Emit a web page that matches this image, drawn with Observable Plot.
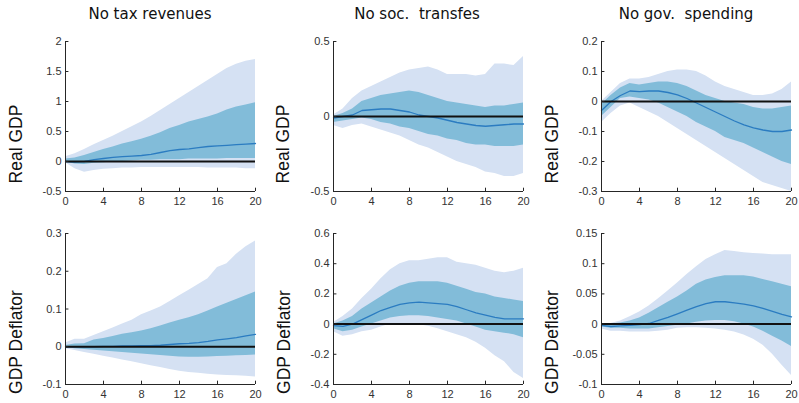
<!DOCTYPE html>
<html>
<head>
<meta charset="utf-8">
<script src="https://cdn.jsdelivr.net/npm/d3@7"></script>
<script src="https://cdn.jsdelivr.net/npm/@observablehq/plot@0.6"></script>
<style>
  body { margin: 0; background: #fff; }
  #root { position: relative; width: 799px; height: 403px; overflow: hidden; font-family: "Liberation Sans", Arial, sans-serif; }
  .panel { position: absolute; }
  .title { position: absolute; font-family: "DejaVu Sans", sans-serif; font-size: 15px; color: #111; white-space: pre; transform: translate(-50%, -50%); line-height: 1; }
  .ylab { position: absolute; font-family: "Liberation Sans", Arial, sans-serif; font-size: 17.5px; color: #111; white-space: nowrap; transform: translate(-50%, -50%) rotate(-90deg); line-height: 1; }
</style>
</head>
<body>
<div id="root"></div>
<script>
// ---------- data ----------
const quarters = [0,1,2,3,4,5,6,7,8,9,10,11,12,13,14,15,16,17,18,19,20];
const xTicks = [0,4,8,12,16,20];

const titles = ["No tax revenues", "No soc.  transfes", "No gov.  spending"];
const rowLabels = ["Real GDP", "GDP Deflator"];

// Real GDP, No tax revenues
const taxGdpOuterLo = [-0.02,-0.12,-0.18,-0.15,-0.13,-0.12,-0.11,-0.11,-0.1,-0.1,-0.1,-0.1,-0.1,-0.1,-0.1,-0.11,-0.11,-0.11,-0.11,-0.12,-0.12];
const taxGdpOuterHi = [0.08,0.13,0.2,0.28,0.35,0.42,0.5,0.58,0.66,0.75,0.85,0.95,1.05,1.15,1.25,1.35,1.45,1.55,1.62,1.67,1.7];
const taxGdpInnerLo = [-0.01,-0.04,-0.05,-0.03,-0.02,-0.01,0.0,0.01,0.02,0.02,0.03,0.03,0.03,0.04,0.04,0.04,0.04,0.05,0.05,0.05,0.05];
const taxGdpInnerHi = [0.04,0.06,0.1,0.15,0.2,0.24,0.29,0.33,0.37,0.42,0.48,0.55,0.6,0.66,0.7,0.74,0.79,0.86,0.91,0.94,0.98];
const taxGdpMedian  = [0,-0.01,0,0.03,0.05,0.07,0.08,0.09,0.1,0.12,0.15,0.18,0.2,0.21,0.23,0.25,0.26,0.27,0.28,0.29,0.3];

// Real GDP, No soc. transfers
const socGdpOuterLo = [-0.06,-0.08,-0.06,-0.05,-0.07,-0.09,-0.11,-0.13,-0.16,-0.19,-0.21,-0.24,-0.27,-0.3,-0.32,-0.34,-0.37,-0.38,-0.4,-0.4,-0.38];
const socGdpOuterHi = [0.01,0.05,0.12,0.17,0.2,0.23,0.26,0.29,0.31,0.32,0.33,0.31,0.28,0.28,0.28,0.27,0.28,0.35,0.35,0.34,0.4];
const socGdpInnerLo = [-0.04,-0.03,-0.02,-0.01,-0.02,-0.04,-0.05,-0.07,-0.08,-0.1,-0.12,-0.13,-0.15,-0.16,-0.18,-0.19,-0.19,-0.2,-0.2,-0.2,-0.19];
const socGdpInnerHi = [0,0.02,0.05,0.1,0.12,0.14,0.15,0.16,0.17,0.16,0.14,0.12,0.1,0.09,0.08,0.07,0.06,0.07,0.07,0.08,0.09];
const socGdpMedian  = [-0.01,0,0.01,0.04,0.045,0.05,0.05,0.04,0.03,0.01,0,-0.01,-0.025,-0.04,-0.05,-0.06,-0.065,-0.06,-0.055,-0.05,-0.05];

// Real GDP, No gov. spending
const govGdpOuterLo = [-0.07,-0.04,-0.015,-0.005,-0.02,-0.035,-0.05,-0.07,-0.09,-0.11,-0.13,-0.15,-0.17,-0.19,-0.21,-0.23,-0.25,-0.27,-0.28,-0.29,-0.3];
const govGdpOuterHi = [0.0,0.03,0.06,0.075,0.075,0.08,0.09,0.1,0.105,0.105,0.1,0.085,0.065,0.05,0.04,0.03,0.02,0.02,0.025,0.04,0.065];
const govGdpInnerLo = [-0.05,-0.02,0.01,0.015,0.01,0.005,-0.005,-0.02,-0.035,-0.05,-0.07,-0.085,-0.1,-0.12,-0.13,-0.14,-0.155,-0.17,-0.185,-0.2,-0.21];
const govGdpInnerHi = [-0.01,0.02,0.045,0.06,0.055,0.06,0.065,0.065,0.06,0.05,0.035,0.02,0.01,0.0,-0.005,-0.01,-0.02,-0.025,-0.025,-0.02,-0.015];
const govGdpMedian  = [-0.03,0.0,0.02,0.035,0.033,0.035,0.035,0.03,0.022,0.01,-0.005,-0.02,-0.035,-0.05,-0.065,-0.078,-0.088,-0.095,-0.1,-0.1,-0.095];

// GDP Deflator, No tax revenues
const taxDefOuterLo = [-0.005,-0.01,-0.015,-0.02,-0.025,-0.03,-0.035,-0.04,-0.045,-0.05,-0.055,-0.06,-0.065,-0.068,-0.07,-0.073,-0.075,-0.076,-0.077,-0.078,-0.08];
const taxDefOuterHi = [0.01,0.02,0.02,0.03,0.04,0.05,0.06,0.07,0.085,0.095,0.105,0.12,0.135,0.15,0.165,0.18,0.21,0.22,0.245,0.265,0.28];
const taxDefInnerLo = [-0.002,-0.005,-0.007,-0.009,-0.011,-0.013,-0.015,-0.017,-0.019,-0.021,-0.023,-0.025,-0.027,-0.028,-0.028,-0.027,-0.026,-0.025,-0.024,-0.023,-0.022];
const taxDefInnerHi = [0.003,0.007,0.008,0.018,0.022,0.027,0.033,0.037,0.042,0.048,0.055,0.063,0.07,0.077,0.085,0.095,0.105,0.115,0.125,0.135,0.145];
const taxDefMedian  = [0,0,0,0,0.001,0.001,0.002,0.002,0.003,0.003,0.004,0.006,0.008,0.009,0.011,0.014,0.018,0.021,0.024,0.029,0.033];

// GDP Deflator, No soc. transfers
const socDefOuterLo = [-0.05,-0.08,-0.07,-0.05,-0.04,-0.02,0.0,0.0,0.0,-0.005,-0.015,-0.03,-0.05,-0.07,-0.09,-0.12,-0.16,-0.21,-0.25,-0.32,-0.36];
const socDefOuterHi = [0.01,0.05,0.1,0.17,0.23,0.3,0.36,0.4,0.42,0.42,0.43,0.44,0.44,0.41,0.4,0.39,0.37,0.35,0.34,0.35,0.37];
const socDefInnerLo = [-0.03,-0.05,-0.04,-0.02,0.0,0.02,0.04,0.05,0.055,0.055,0.05,0.04,0.03,0.02,0.0,-0.02,-0.04,-0.05,-0.06,-0.07,-0.09];
const socDefInnerHi = [0.0,0.02,0.05,0.1,0.14,0.18,0.22,0.25,0.27,0.28,0.28,0.28,0.27,0.25,0.23,0.21,0.2,0.18,0.17,0.16,0.15];
const socDefMedian  = [-0.01,-0.015,0.0,0.03,0.06,0.09,0.11,0.13,0.14,0.145,0.14,0.135,0.13,0.115,0.095,0.075,0.06,0.045,0.035,0.035,0.035];

// GDP Deflator, No gov. spending
const govDefOuterLo = [-0.008,-0.012,-0.012,-0.013,-0.013,-0.013,-0.012,-0.01,-0.007,-0.006,-0.006,-0.007,-0.008,-0.01,-0.013,-0.018,-0.025,-0.035,-0.05,-0.068,-0.085];
const govDefOuterHi = [0.0,0.001,0.005,0.012,0.02,0.03,0.042,0.055,0.068,0.082,0.095,0.107,0.115,0.122,0.12,0.118,0.117,0.116,0.115,0.115,0.115];
const govDefInnerLo = [-0.005,-0.007,-0.007,-0.008,-0.008,-0.008,-0.006,-0.004,-0.002,0.0,0.003,0.005,0.006,0.006,0.004,0.0,-0.005,-0.012,-0.02,-0.028,-0.037];
const govDefInnerHi = [0.0,0.0,0.002,0.005,0.01,0.018,0.027,0.036,0.045,0.055,0.066,0.073,0.077,0.08,0.08,0.08,0.078,0.074,0.07,0.066,0.062];
const govDefMedian  = [-0.002,-0.004,-0.003,-0.002,-0.001,0.001,0.006,0.011,0.017,0.023,0.029,0.034,0.037,0.037,0.035,0.033,0.03,0.026,0.021,0.016,0.012];

// y-axis ticks per panel
const taxGdpTicks = [-0.5,0,0.5,1,1.5,2];
const socGdpTicks = [-0.5,0,0.5];
const govGdpTicks = [-0.3,-0.2,-0.1,0,0.1,0.2];
const taxDefTicks = [-0.1,0,0.1,0.2,0.3];
const socDefTicks = [-0.4,-0.2,0,0.2,0.4,0.6];
const govDefTicks = [-0.1,-0.05,0,0.05,0.1,0.15];

// ---------- layout / style ----------
const lightBand = "#d5e1f3";
const darkBand = "#82bcd9";
const medianColor = "#2b7cc1";
const axisColor = "#262626";

const panels = [
  {row:0, col:0, lo:taxGdpOuterLo, hi:taxGdpOuterHi, ilo:taxGdpInnerLo, ihi:taxGdpInnerHi, med:taxGdpMedian, ticks:taxGdpTicks},
  {row:0, col:1, lo:socGdpOuterLo, hi:socGdpOuterHi, ilo:socGdpInnerLo, ihi:socGdpInnerHi, med:socGdpMedian, ticks:socGdpTicks},
  {row:0, col:2, lo:govGdpOuterLo, hi:govGdpOuterHi, ilo:govGdpInnerLo, ihi:govGdpInnerHi, med:govGdpMedian, ticks:govGdpTicks},
  {row:1, col:0, lo:taxDefOuterLo, hi:taxDefOuterHi, ilo:taxDefInnerLo, ihi:taxDefInnerHi, med:taxDefMedian, ticks:taxDefTicks},
  {row:1, col:1, lo:socDefOuterLo, hi:socDefOuterHi, ilo:socDefInnerLo, ihi:socDefInnerHi, med:socDefMedian, ticks:socDefTicks},
  {row:1, col:2, lo:govDefOuterLo, hi:govDefOuterHi, ilo:govDefInnerLo, ihi:govDefInnerHi, med:govDefMedian, ticks:govDefTicks}
];

const colLeft = [0, 268, 536];
const rowTop = [0, 192];
const titleX = [150, 417, 686];
const ylabX = [[17, 284, 553], [17, 285, 553]];
const ylabY = [144, 342];

const root = document.getElementById("root");

for (const p of panels) {
  const rows = quarters.map((q, i) => ({q, lo: p.lo[i], hi: p.hi[i], ilo: p.ilo[i], ihi: p.ihi[i], med: p.med[i]}));
  const yMin = p.ticks[0], yMax = p.ticks[p.ticks.length - 1];
  const span = yMax - yMin;
  const chart = Plot.plot({
    width: 263,
    height: p.row === 0 ? 210 : 211,
    marginLeft: 65,
    marginRight: 8,
    marginTop: 41,
    marginBottom: p.row === 0 ? 19 : 19,
    style: {fontFamily: "'Liberation Sans', Arial, sans-serif", fontSize: "11px", color: "#333", background: "transparent"},
    x: {domain: [0, 20], ticks: xTicks, tickSize: 0, tickPadding: 6, label: null, tickFormat: d => String(d)},
    y: {domain: [yMin, yMax], ticks: p.ticks, tickSize: 0, tickPadding: 4, label: null, tickFormat: d => String(d)},
    marks: [
      Plot.areaY(rows, {x: "q", y1: "lo", y2: "hi", fill: lightBand}),
      Plot.areaY(rows, {x: "q", y1: "ilo", y2: "ihi", fill: darkBand}),
      Plot.lineY(rows, {x: "q", y: "med", stroke: medianColor, strokeWidth: 1.3}),
      Plot.ruleY([0], {stroke: "#111", strokeWidth: 2}),
      Plot.ruleX([0], {stroke: axisColor, strokeWidth: 1}),
      Plot.ruleY([yMin], {stroke: axisColor, strokeWidth: 1}),
      Plot.ruleY(p.ticks, {x1: 0, x2: 0.36, stroke: axisColor, strokeWidth: 1}),
      Plot.ruleX(xTicks, {y1: yMin, y2: yMin + span * 0.022, stroke: axisColor, strokeWidth: 1})
    ]
  });
  chart.classList.add("panel");
  chart.style.left = colLeft[p.col] + "px";
  chart.style.top = rowTop[p.row] + "px";
  root.appendChild(chart);

  const yl = document.createElement("div");
  yl.className = "ylab";
  yl.textContent = rowLabels[p.row];
  yl.style.left = ylabX[p.row][p.col] + "px";
  yl.style.top = ylabY[p.row] + "px";
  root.appendChild(yl);
}

titles.forEach((t, i) => {
  const d = document.createElement("div");
  d.className = "title";
  d.textContent = t;
  d.style.left = titleX[i] + "px";
  d.style.top = "14px";
  root.appendChild(d);
});
</script>
</body>
</html>
